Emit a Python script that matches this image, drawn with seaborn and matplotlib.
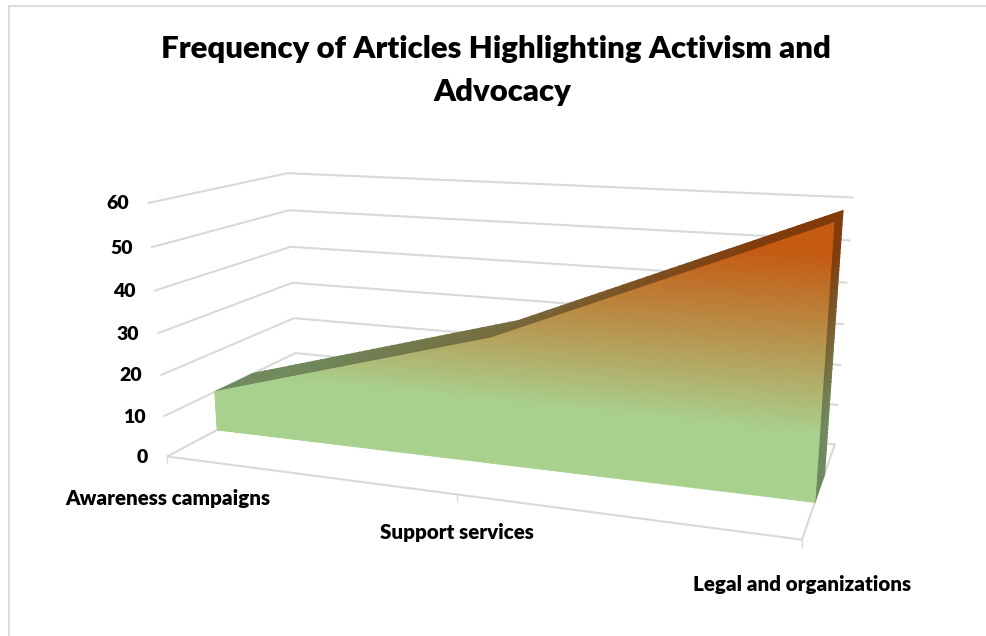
import numpy as np
import pandas as pd
import matplotlib
matplotlib.use("Agg")
import matplotlib.pyplot as plt
from matplotlib.colors import LinearSegmentedColormap, Normalize
import seaborn as sns

title_lines = ["Frequency of Articles Highlighting Activism and", "Advocacy"]
categories = ["Awareness campaigns", "Support services", "Legal and organizations"]
values = [10, 30, 60]
y_ticks = [0, 10, 20, 30, 40, 50, 60]

# Where the 3D box lands on the page (pixels)
front_left = [(168, 456), (164, 416), (161, 375), (158, 333), (155, 291), (152, 247), (148, 203)]
back_left = [(297, 388), (295, 353), (293, 318), (293, 283), (291, 247), (290, 210), (287, 173)]
back_right = [(834, 444), (838, 405), (841, 365), (844, 324), (847, 283), (849, 241), (852, 197)]
front_right_floor = (802, 540)
area_front = 0.345
area_back = 0.64


def fit_camera():
    rows, rhs = [], []
    pts = []
    for i, t in enumerate(y_ticks):
        pts.append((0, t, 0, front_left[i]))
        pts.append((0, t, 1, back_left[i]))
        pts.append((1, t, 1, back_right[i]))
    pts.append((1, 0, 0, front_right_floor))
    for x, y, z, (u, v) in pts:
        y = y / 60
        rows.append([x, y, z, 1, 0, 0, 0, 0, -u * x, -u * y, -u * z])
        rhs.append(u)
        rows.append([0, 0, 0, 0, x, y, z, 1, -v * x, -v * y, -v * z])
        rhs.append(v)
    p = np.linalg.lstsq(np.array(rows, float), np.array(rhs, float), rcond=None)[0]
    return np.append(p, 1).reshape(3, 4)


camera = fit_camera()


def project(x, y, z):
    x, y, z = np.broadcast_arrays(np.asarray(x, float), np.asarray(y, float) / 60, np.asarray(z, float))
    w = camera[2, 0] * x + camera[2, 1] * y + camera[2, 2] * z + camera[2, 3]
    u = (camera[0, 0] * x + camera[0, 1] * y + camera[0, 2] * z + camera[0, 3]) / w
    v = (camera[1, 0] * x + camera[1, 1] * y + camera[1, 2] * z + camera[1, 3]) / w
    return u, v


sns.set_theme(style="white")
plt.rcParams["font.family"] = ["Lato", "DejaVu Sans"]

fig = plt.figure(figsize=(9.87, 6.36), dpi=100)
ax = fig.add_axes([0, 0, 1, 1])
ax.set_xlim(0, 987)
ax.set_ylim(636, 0)
ax.axis("off")

# chart border, only top and left show in the crop
ax.plot([9, 9, 987], [636, 6, 6], color="#DDDDDD", linewidth=1.5)

# gridlines: left wall, back wall, floor edges and ticks
segments = []
for t in y_ticks:
    segments.append(([0, 0, 1], [t, t, t], [0, 1, 1]))
segments.append(([0, 1], [0, 0], [0, 0]))
segments.append(([1, 1], [0, 0], [0, 1]))

grid_rows = []
for n, (xs, ys, zs) in enumerate(segments):
    u, v = project(xs, ys, zs)
    for a, b in zip(u, v):
        grid_rows.append({"line": n, "px": a, "py": b})
grid = pd.DataFrame(grid_rows)
sns.lineplot(data=grid, x="px", y="py", units="line", estimator=None, sort=False,
             color="#D9D9D9", linewidth=1.5, ax=ax)

cat_x = np.linspace(0, 1, len(categories))
for x in cat_x:
    u, v = project(x, 0, 0)
    ax.plot([u, u], [v, v + 7], color="#D9D9D9", linewidth=1)

ax.set_xlim(0, 987)
ax.set_ylim(636, 0)
ax.set_xlabel("")
ax.set_ylabel("")

# the area itself, coloured by value
green = "#A9D18E"
orange = "#C55A11"
cmap = LinearSegmentedColormap.from_list(
    "area", [(0, green), (15 / 60, green), (54 / 60, orange), (1, orange)])
dark = LinearSegmentedColormap.from_list(
    "area_dark", [(p, tuple(c * 0.66 for c in cmap(p)[:3])) for p in np.linspace(0, 1, 30)])
norm = Normalize(0, 60)

xs = np.unique(np.concatenate([np.linspace(0, 1, 81), cat_x]))
tops = np.interp(xs, cat_x, values)
frac = np.linspace(0, 1, 61)

# top face
zz = np.array([area_front, area_back])
X, Z = np.meshgrid(xs, zz)
T = np.tile(tops, (2, 1))
u, v = project(X, T, Z)
ax.pcolormesh(u, v, T, cmap=dark, norm=norm, shading="gouraud", zorder=3)

# right side
F, Z = np.meshgrid(frac, zz)
V = F * values[-1]
u, v = project(1, V, Z)
ax.pcolormesh(u, v, V, cmap=dark, norm=norm, shading="gouraud", zorder=3)

# front face
X, F = np.meshgrid(xs, frac)
V = F * np.interp(X, cat_x, values)
u, v = project(X, V, area_front)
ax.pcolormesh(u, v, V, cmap=cmap, norm=norm, shading="gouraud", zorder=4)

for t in y_ticks:
    u, v = project(0, t, 0)
    ax.text(u - 19, v + 1, str(t), ha="right", va="center", fontsize=14, fontweight="heavy", color="#000000")

label_pos = [(168, 498), (457, 533), (802, 585)]
for name, (px, py) in zip(categories, label_pos):
    ax.text(px, py, name, ha="center", va="center", fontsize=14.8, fontweight="heavy", color="#000000")

ax.text(496, 58, title_lines[0], ha="center", va="baseline", fontsize=22.4, fontweight="heavy", color="#000000")
ax.text(502, 101, title_lines[1], ha="center", va="baseline", fontsize=22.4, fontweight="heavy", color="#000000")

fig.savefig("out.png", dpi=100)
